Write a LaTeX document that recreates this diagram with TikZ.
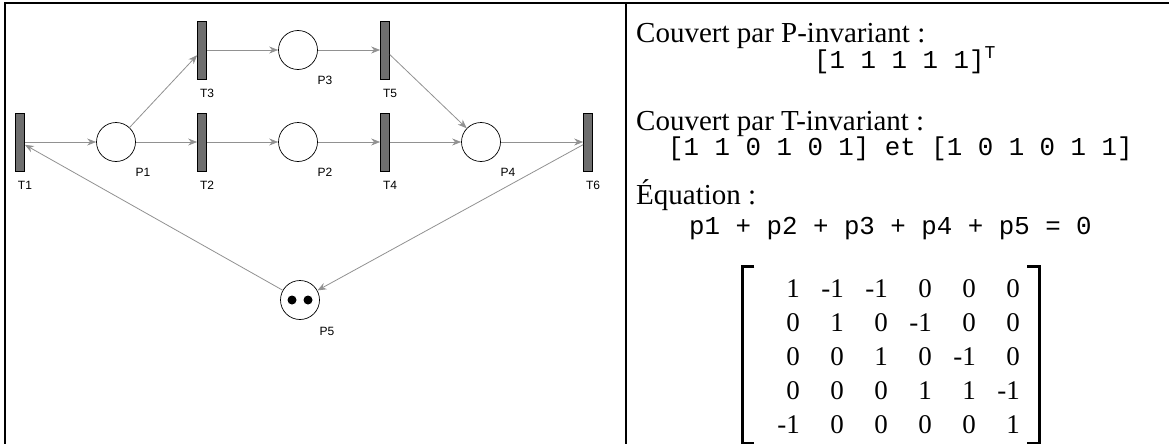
\documentclass[tikz,border=0pt]{standalone}
\usepackage{fontspec}
\setmainfont{Liberation Serif}
\setmonofont{Liberation Mono}
\newfontfamily\netfont{Liberation Sans}
\usetikzlibrary{arrows.meta, positioning, matrix}
\definecolor{bargray}{RGB}{110,110,110}
\definecolor{arcgray}{RGB}{145,145,145}

\begin{document}
\begin{tikzpicture}[
    x=1pt, y=-1pt,
    >={Stealth[length=9pt, width=7pt]},
    place/.style={circle, draw, line width=0.7pt, minimum size=39pt, inner sep=0pt},
    trans/.style={draw, fill=bargray, line width=0.7pt, minimum width=9pt,
                  minimum height=58pt, inner sep=0pt},
    arc/.style={->, draw=arcgray, line width=0.8pt},
    token/.style={circle, fill=black, minimum size=9pt, inner sep=0pt},
    lbl/.style={font=\netfont\fontsize{12}{12}\selectfont, inner sep=0pt},
    txt/.style={anchor=base west, inner sep=0pt, font=\fontsize{29}{29}\selectfont},
    code/.style={anchor=base west, inner sep=0pt, font=\ttfamily\fontsize{25.8}{26}\selectfont},
  ]
    \useasboundingbox (0,0) rectangle (1169,444);

    % cadre du tableau
    \draw[line width=2pt] (5,444) -- (5,3.5) -- (1169,3.5);
    \draw[line width=2pt] (626,3.5) -- (626,444);

    % transitions
    \node[trans] (T1) at (20, 142) {};
    \node[trans] (T2) at (202,142) {};
    \node[trans] (T3) at (202, 50) {};
    \node[trans] (T4) at (385,142) {};
    \node[trans] (T5) at (385, 50) {};
    \node[trans] (T6) at (588,142) {};

    % places
    \node[place] (P1) at (116,142) {};
    \node[place] (P2) at (298,142) {};
    \node[place] (P3) at (298, 50) {};
    \node[place] (P4) at (481,142) {};
    \node[place] (P5) at (300,300) {};
    \node[token] (k1) at ([xshift=-8pt]P5.center) {};
    \node[token] (k2) at ([xshift=8pt]P5.center) {};

    % noms
    \node[lbl] (T1l) at ([xshift=5pt, yshift=-14pt]T1.south) {T1};
    \node[lbl] (T2l) at ([xshift=5pt, yshift=-14pt]T2.south) {T2};
    \node[lbl] (T3l) at ([xshift=5pt, yshift=-14pt]T3.south) {T3};
    \node[lbl] (T4l) at ([xshift=5pt, yshift=-14pt]T4.south) {T4};
    \node[lbl] (T5l) at ([xshift=5pt, yshift=-14pt]T5.south) {T5};
    \node[lbl] (T6l) at ([xshift=5pt, yshift=-14pt]T6.south) {T6};
    \node[lbl] (P1l) at ([xshift=27pt, yshift=-30pt]P1.center) {P1};
    \node[lbl] (P2l) at ([xshift=27pt, yshift=-30pt]P2.center) {P2};
    \node[lbl] (P3l) at ([xshift=27pt, yshift=-30pt]P3.center) {P3};
    \node[lbl] (P4l) at ([xshift=27pt, yshift=-30pt]P4.center) {P4};
    \node[lbl] (P5l) at ([xshift=27pt, yshift=-31pt]P5.center) {P5};

    % arcs
    \draw[arc] (T1) -- (P1);
    \draw[arc] (P1) -- (T2);
    \draw[arc] (P1) -- (T3);
    \draw[arc] (T2) -- (P2);
    \draw[arc] (T3) -- (P3);
    \draw[arc] (P2) -- (T4);
    \draw[arc] (P3) -- (T5);
    \draw[arc] (T4) -- (P4);
    \draw[arc] (T5) -- (P4);
    \draw[arc] (P4) -- (T6);
    \draw[arc] (T6) -- (P5);
    \draw[arc] (P5) -- (T1);

    % colonne de droite
    \node[txt]  (pinv)  at (636, 43)  {Couvert par P-invariant :};
    \node[code] (pvec)  at (814, 68)  {[1 1 1 1 1]\textsuperscript{T}};
    \node[txt]  (tinv)  at (636,130)  {Couvert par T-invariant :};
    \node[code] (tvec)  at (668,155)  {[1 1 0 1 0 1] et [1 0 1 0 1 1]};
    \node[txt]  (eqn)   at (636,204)  {Équation :};
    \node[code] (psum)  at (689,234)  {p1 + p2 + p3 + p4 + p5 = 0};

    % matrice d'incidence
    \matrix (incid) [matrix of nodes, matrix anchor=incid-1-1.base east,
        nodes={inner sep=0pt, text width=30pt, align=right, text height=19pt,
               text depth=0pt, font=\fontsize{27}{27}\selectfont},
        column sep=14pt, row sep=15pt] at (800,297) {
       1 & -1 & -1 &  0 &  0 &  0 \\
       0 &  1 &  0 & -1 &  0 &  0 \\
       0 &  0 &  1 &  0 & -1 &  0 \\
       0 &  0 &  0 &  1 &  1 & -1 \\
      -1 &  0 &  0 &  0 &  0 &  1 \\
    };
    \draw[line width=3pt] ([shift={(-12pt,8pt)}]incid.north west) -- ++(-12pt,0)
      |- ([shift={(-12pt,-7pt)}]incid.south west);
    \draw[line width=3pt] ([shift={(4pt,8pt)}]incid.north east) -- ++(12pt,0)
      |- ([shift={(4pt,-7pt)}]incid.south east);
  \end{tikzpicture}
\end{document}
